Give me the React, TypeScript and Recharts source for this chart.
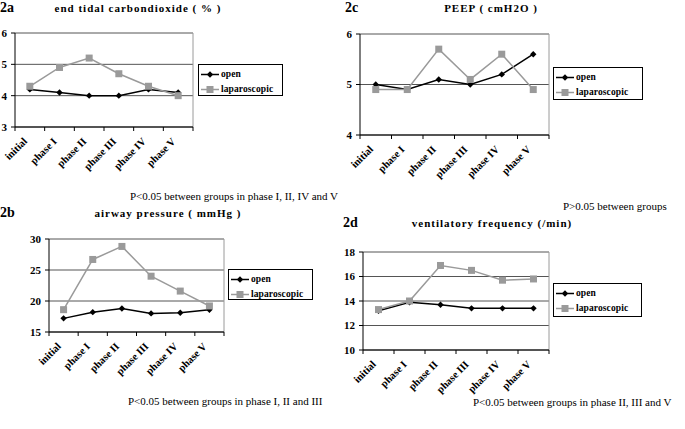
import React from 'react';
import { LineChart, Line, XAxis, YAxis, CartesianGrid, Legend } from 'recharts';

const categories = ['initial', 'phase I', 'phase II', 'phase III', 'phase IV', 'phase V'];

const etco2Open = [4.2, 4.1, 4.0, 4.0, 4.2, 4.1];
const etco2Lap = [4.3, 4.9, 5.2, 4.7, 4.3, 4.0];
const etco2Ticks = [3, 4, 5, 6];

const peepOpen = [5.0, 4.9, 5.1, 5.0, 5.2, 5.6];
const peepLap = [4.9, 4.9, 5.7, 5.1, 5.6, 4.9];
const peepTicks = [4, 5, 6];

const pawOpen = [17.2, 18.2, 18.8, 18.0, 18.1, 18.6];
const pawLap = [18.6, 26.7, 28.8, 24.0, 21.6, 19.2];
const pawTicks = [15, 20, 25, 30];

const rrOpen = [13.2, 13.9, 13.7, 13.4, 13.4, 13.4];
const rrLap = [13.3, 14.0, 16.9, 16.5, 15.7, 15.8];
const rrTicks = [10, 12, 14, 16, 18];

const seriesNames = ['open', 'laparoscopic'];

const build = (open: number[], lap: number[]) =>
  categories.map((c, i) => ({ cat: c, open: open[i], laparoscopic: lap[i] }));

const SERIF = '"Liberation Serif", "Times New Roman", serif';
const GRAY = '#9a9a9a';

const Diamond = (p: any) => {
  const { cx, cy } = p;
  if (cx == null || cy == null) return null;
  const r = 3.2;
  return <path d={`M${cx},${cy - r}L${cx + r},${cy}L${cx},${cy + r}L${cx - r},${cy}Z`} fill="#000" />;
};
const Square = (p: any) => {
  const { cx, cy } = p;
  if (cx == null || cy == null) return null;
  return <rect x={cx - 3.5} y={cy - 3.5} width={7} height={7} fill={GRAY} />;
};

const XTick = (p: any) => {
  const { x, y, payload, index, band } = p;
  const last = index === categories.length - 1;
  const ax = x - 2;
  const ay = y + 15;
  return (
    <g>
      <line x1={x - band / 2} y1={y} x2={x - band / 2} y2={y + 4} stroke="#000" />
      {last && <line x1={x + band / 2} y1={y} x2={x + band / 2} y2={y + 4} stroke="#000" />}
      <text
        x={ax}
        y={ay}
        transform={`rotate(-45 ${ax} ${ay})`}
        textAnchor="end"
        fontFamily={SERIF}
        fontWeight="bold"
        fontSize={10.5}
        fill="#000"
      >
        {payload.value}
      </text>
    </g>
  );
};

const LegendBox = ({ w, h }: { w: number; h: number }) => (
  <div
    style={{
      width: w,
      height: h,
      boxSizing: 'border-box',
      border: '1px solid #000',
      background: '#fff',
      fontFamily: SERIF,
      fontWeight: 'bold',
      fontSize: 9.5,
      letterSpacing: 0.1,
      paddingTop: 3,
    }}
  >
    {seriesNames.map((n, i) => (
      <div key={n} style={{ display: 'flex', alignItems: 'center', height: 13, marginBottom: 2 }}>
        <svg width={22} height={13} style={{ flex: 'none' }}>
          <line x1={2} y1={6.5} x2={20} y2={6.5} stroke={i === 0 ? '#000' : GRAY} strokeWidth={1.5} />
          {i === 0 ? <Diamond cx={11} cy={6.5} /> : <Square cx={11} cy={6.5} />}
        </svg>
        <span style={{ lineHeight: '13px' }}>{n}</span>
      </div>
    ))}
  </div>
);

type PanelProps = {
  data: any[];
  ticks: number[];
  cx: number; cy: number; W: number; H: number;
  L: number; T: number; R: number; B: number;
  yw: number;
  legend: { x: number; y: number; w: number; h: number };
};

const XH = 50;

const Panel = ({ data, ticks, cx, cy, W, H, L, T, R, B, yw, legend }: PanelProps) => {
  const margin = { left: L - cx - yw, top: T - cy, right: cx + W - R, bottom: cy + H - B - XH };
  const band = (R - L) / categories.length;
  return (
    <div style={{ position: 'absolute', left: cx, top: cy }}>
      <LineChart width={W} height={H} data={data} margin={margin} style={{ overflow: 'visible' }}>
        <CartesianGrid horizontal vertical={false} stroke="#555" strokeWidth={1} />
        <CartesianGrid
          horizontal={false}
          vertical
          stroke={GRAY}
          verticalCoordinatesGenerator={({ offset }: any) => [offset.left + offset.width]}
        />
        <XAxis
          dataKey="cat"
          interval={0}
          height={XH}
          padding={{ left: band / 2, right: band / 2 }}
          tickLine={false}
          tickSize={0}
          tickMargin={0}
          axisLine={{ stroke: '#000' }}
          tick={<XTick band={band} />}
        />
        <YAxis
          width={yw}
          domain={[ticks[0], ticks[ticks.length - 1]]}
          ticks={ticks}
          interval={0}
          tickSize={4}
          tickMargin={4}
          axisLine={{ stroke: '#000' }}
          tickLine={{ stroke: '#000' }}
          tick={{ fontFamily: SERIF, fontWeight: 'bold', fontSize: 11, fill: '#000' }}
        />
        <Legend
          layout="vertical"
          align="center"
          verticalAlign="middle"
          wrapperStyle={{ left: legend.x - cx, top: legend.y - cy, width: legend.w, height: legend.h }}
          content={() => <LegendBox w={legend.w} h={legend.h} />}
        />
        <Line
          dataKey="open"
          stroke="#000"
          strokeWidth={1.5}
          dot={<Diamond />}
          activeDot={false}
          isAnimationActive={false}
        />
        <Line
          dataKey="laparoscopic"
          stroke={GRAY}
          strokeWidth={1.5}
          dot={<Square />}
          activeDot={false}
          isAnimationActive={false}
        />
      </LineChart>
    </div>
  );
};

const Label = ({ x, y, text, size, bold, center, w, ls }: any) => (
  <div
    style={{
      position: 'absolute',
      left: center ? x - (w || 300) / 2 : x,
      top: y,
      width: center ? w || 300 : undefined,
      textAlign: center ? 'center' : 'left',
      fontFamily: SERIF,
      fontWeight: bold ? 'bold' : 'normal',
      fontSize: size,
      lineHeight: `${size}px`,
      letterSpacing: ls || 0,
      whiteSpace: 'nowrap',
      color: '#000',
    }}
  >
    {text}
  </div>
);

export default function App() {
  return (
    <div style={{ position: 'absolute', left: 0, top: 0, width: 685, height: 429, background: '#fff', overflow: 'hidden' }}>
      <Panel
        data={build(etco2Open, etco2Lap)}
        ticks={etco2Ticks}
        cx={0} cy={20} W={290} H={175}
        L={15} T={33} R={193} B={127} yw={15}
        legend={{ x: 198, y: 64, w: 85, h: 32 }}
      />
      <Panel
        data={build(peepOpen, peepLap)}
        ticks={peepTicks}
        cx={340} cy={20} W={345} H={175}
        L={360} T={34} R={549} B={135} yw={15}
        legend={{ x: 553, y: 67, w: 90, h: 33 }}
      />
      <Panel
        data={build(pawOpen, pawLap)}
        ticks={pawTicks}
        cx={0} cy={225} W={320} H={175}
        L={49} T={239} R={224} B={332} yw={22}
        legend={{ x: 228, y: 269, w: 85, h: 31 }}
      />
      <Panel
        data={build(rrOpen, rrLap)}
        ticks={rrTicks}
        cx={340} cy={235} W={345} H={175}
        L={363} T={252} R={549} B={350} yw={22}
        legend={{ x: 553, y: 283, w: 89, h: 34 }}
      />

      <Label x={0} y={1} text="2a" size={14} bold />
      <Label x={138} y={3} text="end tidal carbondioxide ( % )" size={11} bold center ls={1} />
      <Label x={130} y={191} text="P<0.05 between groups in phase I, II, IV and V" size={11} />

      <Label x={345} y={1} text="2c" size={14} bold />
      <Label x={491} y={3} text="PEEP ( cmH2O )" size={11} bold center ls={1} />
      <Label x={563} y={201} text="P>0.05 between groups" size={11} />

      <Label x={0} y={206} text="2b" size={14} bold />
      <Label x={168} y={208} text="airway pressure ( mmHg )" size={11} bold center ls={1} />
      <Label x={128} y={396} text="P<0.05 between groups in phase I, II and III" size={11} />

      <Label x={343} y={216} text="2d" size={14} bold />
      <Label x={492} y={218} text="ventilatory frequency (/min)" size={11} bold center ls={1} />
      <Label x={473} y={397} text="P<0.05 between groups in phase II, III and V" size={11} />
    </div>
  );
}
